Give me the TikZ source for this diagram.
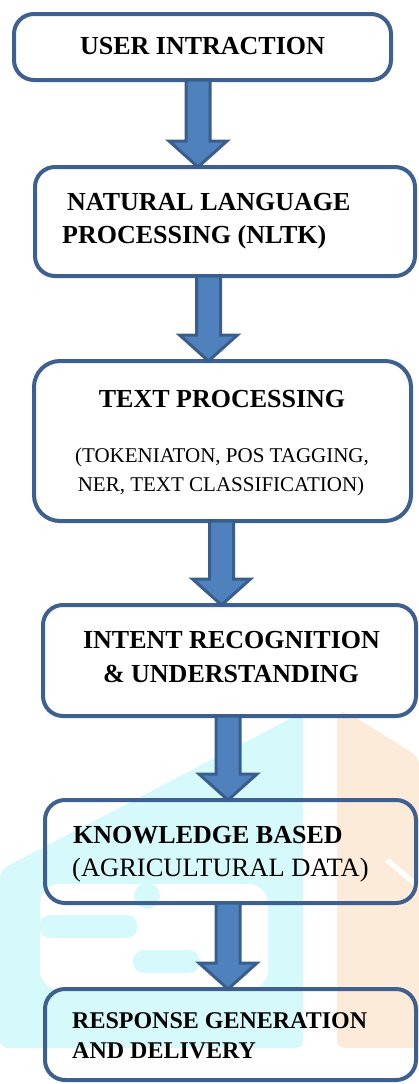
\documentclass[tikz,border=0pt]{standalone}
\usepackage{fontspec}
\setmainfont{Liberation Serif}
\usetikzlibrary{calc}

\definecolor{boxline}{RGB}{61,96,144}
\definecolor{arrowfill}{RGB}{79,129,189}
\definecolor{arrowline}{RGB}{58,94,140}
\definecolor{wmcyan}{RGB}{214,250,252}
\definecolor{wmorange}{RGB}{253,235,218}

\tikzset{
  stagebox/.style={draw=boxline, line width=4pt, rounded corners=20pt,
    outer sep=0pt, inner sep=0pt},
  blockarrow/.style={fill=arrowfill, draw=arrowline, line width=3pt,
    line join=miter},
  head/.style={font=\fontsize{26}{30}\selectfont\bfseries, inner sep=0pt},
  headsmall/.style={font=\fontsize{24}{28}\selectfont\bfseries, inner sep=0pt},
  note/.style={font=\fontsize{21}{25}\selectfont, inner sep=0pt},
  notebig/.style={font=\fontsize{26.5}{30}\selectfont, inner sep=0pt},
}

% thick block arrow from the bottom of one box to the top of the next
\newcommand\flowarrow[3]{%
  \draw[blockarrow] let \p1=(#1.south), \p2=(#2.north) in
    (#3pt-12pt,\y1) -- (#3pt+12pt,\y1) -- (#3pt+12pt,\y2+26pt)
    -- (#3pt+29pt,\y2+26pt) -- (#3pt,\y2) -- (#3pt-29pt,\y2+26pt)
    -- (#3pt-12pt,\y2+26pt) -- cycle;}

\begin{document}
\begin{tikzpicture}[x=1pt,y=-1pt]
\useasboundingbox (0,0) rectangle (419,1084);
\fill[white] (0,0) rectangle (419,1084);

% faint logo in the background
\fill[wmcyan, rounded corners=8pt] (0,870) -- (303,712) -- (303,1048) -- (0,1048) -- cycle;
\fill[white, rounded corners=20pt] (40,884) rectangle (268,990);
\fill[wmcyan] (147,896) circle (13);
\fill[wmcyan, rounded corners=10pt] (40,915) rectangle (137,938);
\fill[wmcyan, rounded corners=11pt] (133,950) rectangle (200,973);
\fill[wmorange, rounded corners=8pt] (337,712) -- (347,712) -- (419,757) -- (419,1048) -- (337,1048) -- cycle;
\draw[white, line width=5pt] (387,860) -- (419,887);

% stages
\node[stagebox, minimum width=377pt, minimum height=66pt]  (user)  at (202.5,47)  {};
\node[stagebox, minimum width=380pt, minimum height=109pt] (nlp)   at (225,221.5) {};
\node[stagebox, minimum width=377pt, minimum height=160pt, rounded corners=26pt] (text) at (222.5,441) {};
\node[stagebox, minimum width=373pt, minimum height=111pt] (intent) at (229.5,660.5) {};
\node[stagebox, minimum width=371pt, minimum height=103pt] (kb)    at (230.5,851.5) {};
\node[stagebox, minimum width=371pt, minimum height=91pt]  (resp)  at (230.5,1034.5) {};

% labels
\node[head, anchor=base] (userA) at (202.5,54) {USER INTRACTION};
\node[head, anchor=base west] (nlpA) at (67,210) {NATURAL LANGUAGE};
\node[head, anchor=base west] (nlpB) at (62,243) {PROCESSING (NLTK)};
\node[head, anchor=base] (textA) at (222,407) {TEXT PROCESSING};
\node[note, anchor=base] (textB) at (222,462) {(TOKENIATON, POS TAGGING,};
\node[note, anchor=base] (textC) at (221,491) {NER, TEXT CLASSIFICATION)};
\node[head, anchor=base] (intentA) at (231.5,648) {INTENT RECOGNITION};
\node[head, anchor=base] (intentB) at (231,682) {\& UNDERSTANDING};
\node[head, anchor=base west] (kbA) at (73,843) {KNOWLEDGE BASED};
\node[notebig, anchor=base west] (kbB) at (72,876) {(AGRICULTURAL DATA)};
\node[headsmall, anchor=base west] (respA) at (72,1028) {RESPONSE GENERATION};
\node[headsmall, anchor=base west] (respB) at (72,1058) {AND DELIVERY};

% flow
\flowarrow{user}{nlp}{198}
\flowarrow{nlp}{text}{208.5}
\flowarrow{text}{intent}{221.5}
\flowarrow{intent}{kb}{228}
\flowarrow{kb}{resp}{228}
\end{tikzpicture}
\end{document}
